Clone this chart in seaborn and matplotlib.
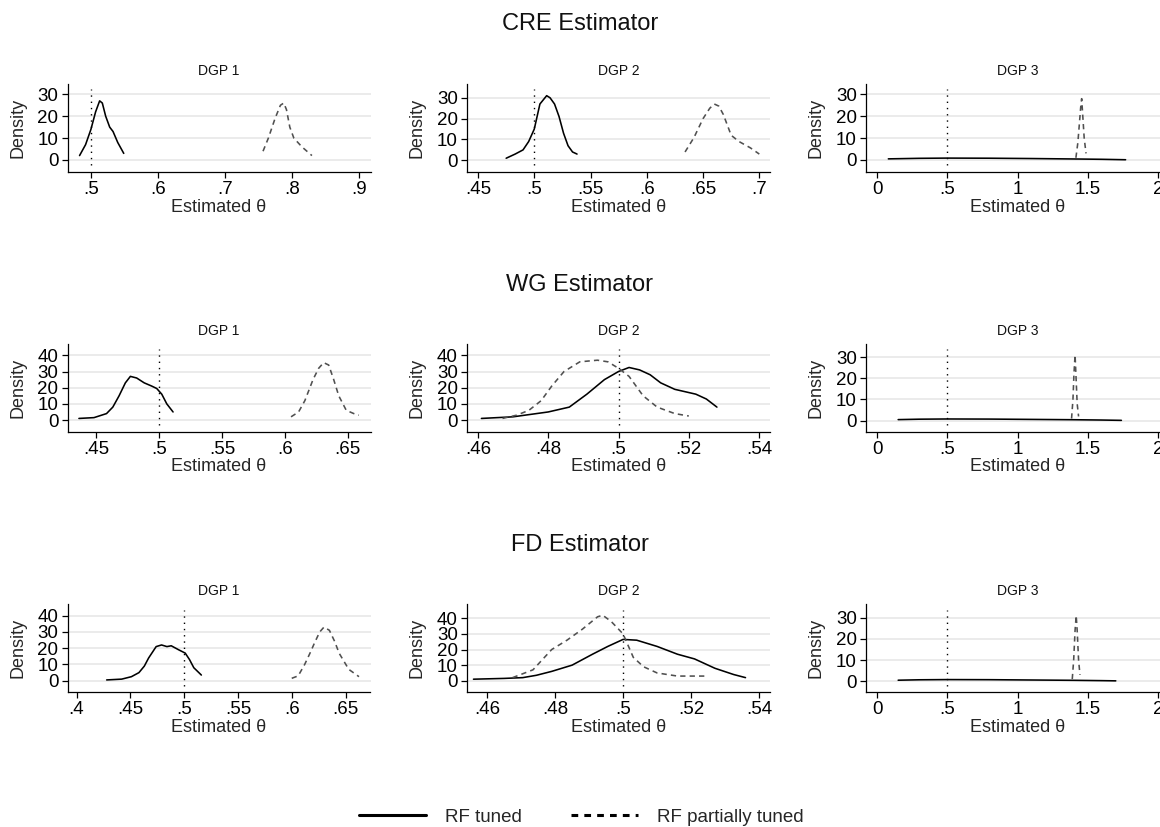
import numpy as np
import pandas as pd
import matplotlib
matplotlib.use("Agg")
import matplotlib.pyplot as plt
from matplotlib.lines import Line2D
from matplotlib.ticker import FixedLocator, FuncFormatter
import seaborn as sns

# ---------------- data ----------------
estimators = ["CRE Estimator", "WG Estimator", "FD Estimator"]
dgps = ["DGP 1", "DGP 2", "DGP 3"]
series_names = ["RF tuned", "RF partially tuned"]
x_axis_label = "Estimated θ"
y_axis_label = "Density"
true_theta = 0.5

# CRE estimator
cre1_tuned_x = [0.483, 0.492, 0.500, 0.507, 0.513, 0.517, 0.522, 0.528, 0.533, 0.540, 0.549]
cre1_tuned_y = [2, 7, 14, 22, 27, 26, 20, 15, 13, 8, 3]
cre1_part_x = [0.757, 0.765, 0.775, 0.783, 0.788, 0.792, 0.797, 0.803, 0.815, 0.830]
cre1_part_y = [4, 10, 19, 25, 26, 23, 15, 10, 6, 2]
cre2_tuned_x = [0.475, 0.483, 0.490, 0.495, 0.500, 0.505, 0.511, 0.514, 0.518, 0.522, 0.526, 0.530, 0.534, 0.538]
cre2_tuned_y = [1, 3, 5, 9, 15, 27, 31, 30, 27, 21, 13, 7, 4, 3]
cre2_part_x = [0.634, 0.642, 0.650, 0.656, 0.660, 0.664, 0.668, 0.675, 0.682, 0.692, 0.700]
cre2_part_y = [4, 11, 20, 25, 27, 26, 22, 12, 9, 6, 3]
cre3_tuned_x = [0.08, 0.30, 0.50, 0.80, 1.10, 1.40, 1.60, 1.77]
cre3_tuned_y = [0.5, 0.75, 0.85, 0.8, 0.65, 0.45, 0.3, 0.1]
cre3_part_x = [1.416, 1.430, 1.440, 1.450, 1.457, 1.465, 1.475, 1.488]
cre3_part_y = [1, 8, 16, 24, 28, 20, 10, 3]

# WG estimator
wg1_tuned_x = [0.436, 0.448, 0.458, 0.463, 0.468, 0.473, 0.477, 0.482, 0.488, 0.494, 0.498, 0.502, 0.506, 0.511]
wg1_tuned_y = [1, 1.5, 4, 8, 15, 23, 27, 26, 23, 21, 19.5, 16, 10, 5]
wg1_part_x = [0.605, 0.611, 0.616, 0.6225, 0.627, 0.631, 0.635, 0.639, 0.643, 0.649, 0.655, 0.659]
wg1_part_y = [2, 5, 12, 25, 32, 35.5, 34, 25, 15, 6, 4, 3]
wg2_tuned_x = [0.461, 0.470, 0.480, 0.486, 0.491, 0.496, 0.500, 0.503, 0.506, 0.509, 0.512, 0.516, 0.519, 0.522, 0.525, 0.528]
wg2_tuned_y = [1, 2, 5, 8, 16, 25, 30, 32.5, 31, 28, 23, 19, 17.5, 16, 13, 8]
wg2_part_x = [0.467, 0.471, 0.4745, 0.478, 0.481, 0.4845, 0.489, 0.494, 0.497, 0.500, 0.503, 0.507, 0.511, 0.516, 0.520]
wg2_part_y = [1, 3, 6, 12, 21, 30, 36, 37, 36, 32, 27, 15, 8, 4, 2.5]
wg3_tuned_x = [0.15, 0.30, 0.50, 0.80, 1.10, 1.40, 1.60, 1.74]
wg3_tuned_y = [0.5, 0.7, 0.8, 0.75, 0.6, 0.45, 0.3, 0.15]
wg3_part_x = [1.385, 1.395, 1.402, 1.410, 1.416, 1.425, 1.435]
wg3_part_y = [1, 10, 22, 31, 22, 8, 2]

# FD estimator
fd1_tuned_x = [0.428, 0.442, 0.451, 0.458, 0.463, 0.467, 0.474, 0.479, 0.484, 0.488, 0.495, 0.501, 0.505, 0.509, 0.516]
fd1_tuned_y = [0.5, 1, 2.5, 5, 9, 14, 21, 22, 21, 21.5, 19, 17, 13, 8, 3.5]
fd1_part_x = [0.600, 0.606, 0.612, 0.617, 0.621, 0.626, 0.630, 0.635, 0.640, 0.644, 0.653, 0.6625]
fd1_part_y = [1.5, 3, 10, 17, 23, 30, 33, 31, 24, 17, 7, 2.5]
fd2_tuned_x = [0.456, 0.465, 0.4705, 0.4745, 0.479, 0.485, 0.491, 0.4955, 0.500, 0.504, 0.510, 0.516, 0.521, 0.527, 0.5325, 0.536]
fd2_tuned_y = [1, 1.5, 2, 3.5, 6, 10, 17, 22, 26.5, 26, 22, 17, 14, 8, 4, 2]
fd2_part_x = [0.4675, 0.4735, 0.479, 0.4835, 0.488, 0.4925, 0.494, 0.4965, 0.500, 0.503, 0.506, 0.510, 0.516, 0.525]
fd2_part_y = [2, 7, 20, 26, 33, 41, 42, 38, 30, 15, 9, 5, 3, 3]
fd3_tuned_x = [0.15, 0.30, 0.50, 0.80, 1.10, 1.40, 1.60, 1.70]
fd3_tuned_y = [0.5, 0.7, 0.8, 0.75, 0.6, 0.45, 0.3, 0.2]
fd3_part_x = [1.390, 1.400, 1.410, 1.418, 1.425, 1.435, 1.445]
fd3_part_y = [1, 10, 24, 31, 24, 10, 3]

# tick values
xt_cre1 = [0.5, 0.6, 0.7, 0.8, 0.9]
xt_cre2 = [0.45, 0.5, 0.55, 0.6, 0.65, 0.7]
xt_dgp3 = [0, 0.5, 1, 1.5, 2]
xt_wg1 = [0.45, 0.5, 0.55, 0.6, 0.65]
xt_dgp2 = [0.46, 0.48, 0.5, 0.52, 0.54]
xt_fd1 = [0.4, 0.45, 0.5, 0.55, 0.6, 0.65]
yt_30 = [0, 10, 20, 30]
yt_40 = [0, 10, 20, 30, 40]

panels = {
    (0, 0): (cre1_tuned_x, cre1_tuned_y, cre1_part_x, cre1_part_y, xt_cre1, yt_30),
    (0, 1): (cre2_tuned_x, cre2_tuned_y, cre2_part_x, cre2_part_y, xt_cre2, yt_30),
    (0, 2): (cre3_tuned_x, cre3_tuned_y, cre3_part_x, cre3_part_y, xt_dgp3, yt_30),
    (1, 0): (wg1_tuned_x, wg1_tuned_y, wg1_part_x, wg1_part_y, xt_wg1, yt_40),
    (1, 1): (wg2_tuned_x, wg2_tuned_y, wg2_part_x, wg2_part_y, xt_dgp2, yt_40),
    (1, 2): (wg3_tuned_x, wg3_tuned_y, wg3_part_x, wg3_part_y, xt_dgp3, yt_30),
    (2, 0): (fd1_tuned_x, fd1_tuned_y, fd1_part_x, fd1_part_y, xt_fd1, yt_40),
    (2, 1): (fd2_tuned_x, fd2_tuned_y, fd2_part_x, fd2_part_y, xt_dgp2, yt_40),
    (2, 2): (fd3_tuned_x, fd3_tuned_y, fd3_part_x, fd3_part_y, xt_dgp3, yt_30),
}

# ---------------- layout (axis ranges, positions) ----------------
xlims = {
    (0, 0): (0.465, 0.9175), (0, 1): (0.4402, 0.7095), (0, 2): (-0.079, 2.079),
    (1, 0): (0.4269, 0.6683), (1, 1): (0.4569, 0.5431), (1, 2): (-0.079, 2.079),
    (2, 0): (0.3916, 0.6732), (2, 1): (0.4541, 0.5432), (2, 2): (-0.079, 2.079),
}
ylims = {
    (0, 0): (-5.5, 34.7), (0, 1): (-5.6, 36.6), (0, 2): (-5.5, 34.7),
    (1, 0): (-7.2, 47.2), (1, 1): (-7.2, 47.2), (1, 2): (-5.2, 36.3),
    (2, 0): (-7.1, 47.0), (2, 1): (-7.4, 49.0), (2, 2): (-5.2, 36.3),
}

W, H = 1160, 827
sns.set_theme(style="white")
plt.rcParams["font.family"] = ["Liberation Sans", "DejaVu Sans"]
plt.rcParams["axes.unicode_minus"] = False

fig = plt.figure(figsize=(W / 100, H / 100), dpi=100)
fig.patch.set_facecolor("white")

col_left = [67.5, 467.0, 866.0]
ax_w = 303.0
ax_h = 88.0
row_bottom = [172.0, 431.7, 692.3]
title_y = [24, 285, 545]

palette = {"RF tuned": "black", "RF partially tuned": "#505050"}
dashes = {"RF tuned": "", "RF partially tuned": (3.3, 2.6)}


def fmt(v, pos=None):
    s = f"{v:g}"
    if s.startswith("0.") and len(s) > 2:
        s = s[1:]
    return s


for r in range(3):
    fig.text(0.5, 1 - title_y[r] / H, estimators[r], ha="center", va="center",
             fontsize=17, color="#111111")
    for c in range(3):
        tx, ty, px, py, xt, yt = panels[(r, c)]
        ax = fig.add_axes([col_left[c] / W, 1 - row_bottom[r] / H, ax_w / W, ax_h / H])
        df = pd.DataFrame({
            "theta": list(tx) + list(px),
            "density": list(ty) + list(py),
            "series": [series_names[0]] * len(tx) + [series_names[1]] * len(px),
        })
        sns.lineplot(data=df, x="theta", y="density", hue="series", style="series",
                     palette=palette, dashes=dashes, sort=False, estimator=None,
                     linewidth=1.15, legend=False, ax=ax)
        ax.axvline(true_theta, ymin=0.075, ymax=0.94, color="black",
                   linestyle=(0, (1, 3.5)), linewidth=1.0, zorder=1)
        ax.set_xlim(*xlims[(r, c)])
        ax.set_ylim(*ylims[(r, c)])
        ax.xaxis.set_major_locator(FixedLocator(xt))
        ax.yaxis.set_major_locator(FixedLocator(yt))
        ax.xaxis.set_major_formatter(FuncFormatter(fmt))
        ax.yaxis.set_major_formatter(FuncFormatter(fmt))
        ax.grid(axis="y", color="#e8e8e8", linewidth=1.2)
        ax.grid(axis="x", visible=False)
        ax.set_axisbelow(True)
        for s in ["top", "right"]:
            ax.spines[s].set_visible(False)
        for s in ["left", "bottom"]:
            ax.spines[s].set_color("black")
            ax.spines[s].set_linewidth(0.9)
        ax.tick_params(axis="both", which="major", direction="out", length=4.5,
                       width=0.9, color="black", labelsize=13.5, labelcolor="black",
                       pad=2, left=True, bottom=True)
        ax.set_xlabel(x_axis_label, fontsize=13, va="center")
        ax.xaxis.set_label_coords(0.5, -35 / ax_h)
        ax.set_ylabel(y_axis_label, fontsize=13, va="center")
        ax.yaxis.set_label_coords(-50 / ax_w, 0.5)
        ax.text(0.5, 1 + 13 / ax_h, dgps[c], transform=ax.transAxes,
                ha="center", va="center", fontsize=10, color="#111111")

handles = [
    Line2D([], [], color="black", linewidth=2.2, linestyle="-"),
    Line2D([], [], color="black", linewidth=2.2, linestyle=(0, (2.2, 2.0))),
]
fig.legend(handles, series_names, loc="center", bbox_to_anchor=(0.501, 1 - 817 / H),
           ncol=2, frameon=False, fontsize=13.5, handlelength=3.6,
           handletextpad=1.0, columnspacing=2.6)

fig.savefig("out.png", dpi=100, facecolor="white")
